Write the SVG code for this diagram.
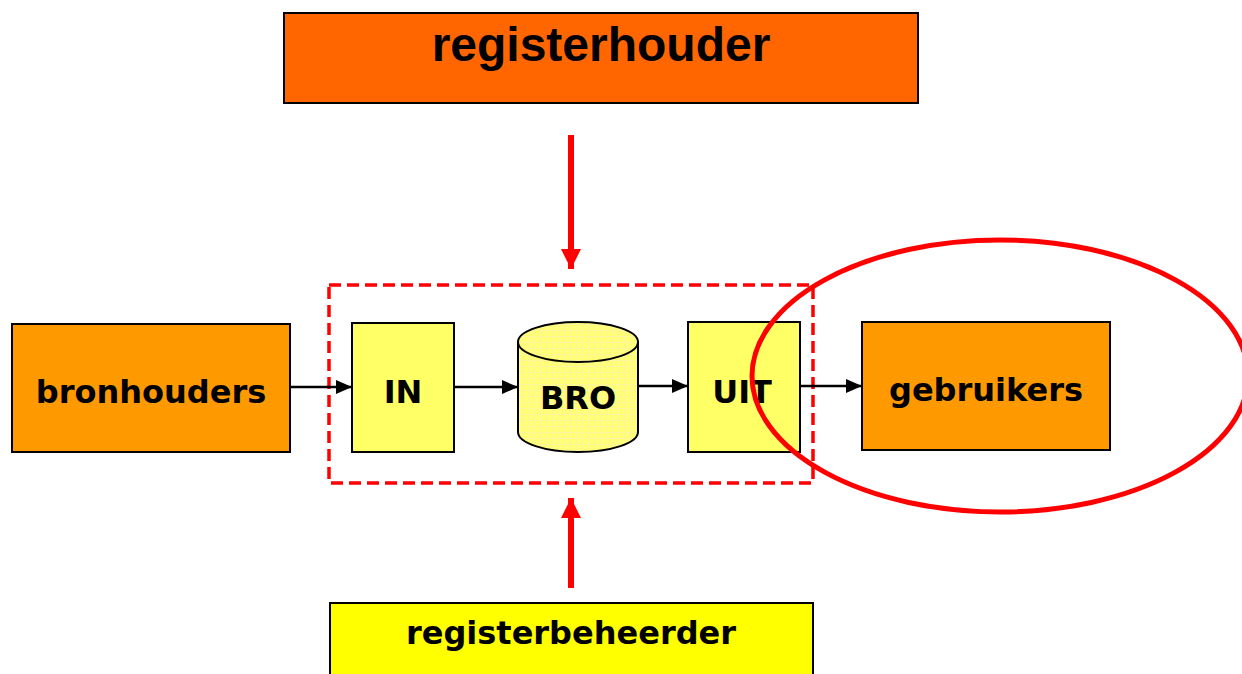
<svg xmlns="http://www.w3.org/2000/svg" width="1242" height="674" viewBox="0 0 1242 674">
<style>
.box{stroke:#000;stroke-width:2}
.lbl{font-family:"DejaVu Sans",Verdana,sans-serif;font-weight:bold;font-size:32px;fill:#000;text-anchor:middle}
.conn{stroke:#000;stroke-width:2.5;fill:none}
.red{stroke:#FF0000;stroke-width:6;fill:none}
</style>
<defs>
<marker id="ah" viewBox="0 0 16 14" markerWidth="16" markerHeight="14" refX="16" refY="7" orient="auto" markerUnits="userSpaceOnUse">
<path d="M0,0 L16,7 L0,14 Z" fill="#000"/>
</marker>
<marker id="rh" viewBox="0 0 20 20" markerWidth="20" markerHeight="20" refX="20" refY="10" orient="auto" markerUnits="userSpaceOnUse">
<path d="M0,0 L20,10 L0,20 Z" fill="#FF0000"/>
</marker>
<pattern id="grid" width="6" height="6" patternUnits="userSpaceOnUse">
<rect width="6" height="6" fill="#FFFF70"/>
<path d="M0,0.5 H6 M0.5,0 V6" stroke="#FFF5A0" stroke-width="1"/>
<rect x="3" y="3" width="1" height="1" fill="#FFFFC0"/>
</pattern>
</defs>
<rect width="1242" height="674" fill="#fff"/>

<g id="registerhouder">
<rect class="box" x="284" y="13" width="634" height="90" fill="#FF6600"/>
<text x="601" y="61" font-family="'Liberation Sans',Arial,sans-serif" font-weight="bold" font-size="48" text-anchor="middle">registerhouder</text>
</g>

<g id="container">
<rect x="329" y="285" width="484" height="198" fill="none" stroke="#FF0000" stroke-width="3.5" stroke-dasharray="12,6"/>
</g>

<g id="bronhouders">
<rect class="box" x="12" y="324" width="278" height="128" fill="#FF9900"/>
<text class="lbl" x="151" y="403">bronhouders</text>
</g>

<g id="IN">
<rect class="box" x="352" y="323" width="102" height="129" fill="#FFFF66"/>
<text class="lbl" x="403" y="403">IN</text>
</g>

<g id="BRO">
<path class="box" d="M518,342 V432 A60,20 0 0 0 638,432 V342" fill="url(#grid)"/>
<ellipse class="box" cx="578" cy="342" rx="60" ry="20" fill="url(#grid)"/>
<text class="lbl" x="578" y="409">BRO</text>
</g>

<g id="UIT">
<rect class="box" x="688" y="322" width="112" height="130" fill="#FFFF66"/>
<text class="lbl" x="742" y="403">UIT</text>
</g>

<g id="gebruikers">
<rect class="box" x="862" y="322" width="248" height="128" fill="#FF9900"/>
<text class="lbl" x="986" y="401">gebruikers</text>
</g>

<g id="registerbeheerder">
<rect class="box" x="330" y="603" width="483" height="80" fill="#FFFF00"/>
<text class="lbl" x="571" y="644">registerbeheerder</text>
</g>

<g id="connectors">
<line class="conn" x1="290" y1="387" x2="352" y2="387" marker-end="url(#ah)"/>
<line class="conn" x1="454" y1="387" x2="518" y2="387" marker-end="url(#ah)"/>
<line class="conn" x1="638" y1="386" x2="688" y2="386" marker-end="url(#ah)"/>
<line class="conn" x1="800" y1="386" x2="862" y2="386" marker-end="url(#ah)"/>
<line class="red" x1="571" y1="135" x2="571" y2="269" marker-end="url(#rh)"/>
<line class="red" x1="571" y1="588" x2="571" y2="498" marker-end="url(#rh)"/>
</g>

<g id="highlight">
<ellipse cx="1000" cy="376" rx="248" ry="136" fill="none" stroke="#FF0000" stroke-width="5"/>
</g>
</svg>
